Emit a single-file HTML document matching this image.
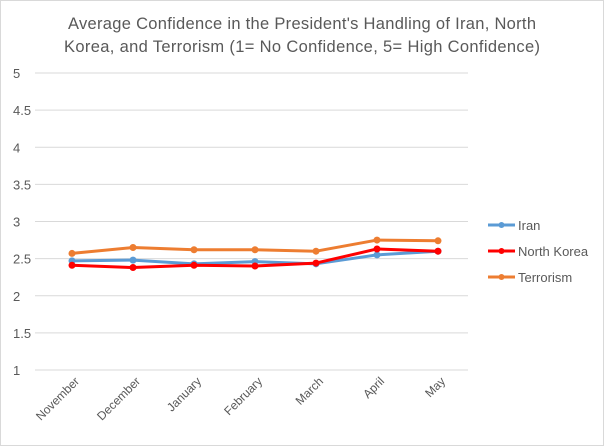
<!DOCTYPE html>
<html><head><meta charset="utf-8"><style>
body{margin:0;background:#fff}
svg{display:block;font-family:"Liberation Sans",sans-serif}
</style></head><body>
<svg id="chart" width="604" height="446" viewBox="0 0 604 446">
<rect x="0.5" y="0.5" width="603" height="445" fill="#fff" stroke="#d9d9d9"/>
<text x="302" y="29" text-anchor="middle" font-size="16.5" fill="#595959" textLength="468">Average Confidence in the President's Handling of Iran, North</text>
<text x="302" y="52" text-anchor="middle" font-size="16.5" fill="#595959" textLength="476">Korea, and Terrorism (1= No Confidence, 5= High Confidence)</text>
<g id="grid"></g><g id="ylabels"></g><g id="xlabels"></g><g id="series"></g><g id="legend"></g>
</svg>
<script>
const categories=["November","December","January","February","March","April","May"];
const iran=[2.47,2.48,2.43,2.46,2.43,2.55,2.60];
const northKorea=[2.41,2.38,2.41,2.40,2.44,2.63,2.60];
const terrorism=[2.57,2.65,2.62,2.62,2.60,2.75,2.74];
const yTicks=[1,1.5,2,2.5,3,3.5,4,4.5,5];
const yTickLabels=["1","1.5","2","2.5","3","3.5","4","4.5","5"];
const NS="http://www.w3.org/2000/svg";
const y=v=>370-(v-1)*74.25;
const x=i=>72+i*61;
function mk(t,a,p){const e=document.createElementNS(NS,t);for(const k in a)e.setAttribute(k,a[k]);p.appendChild(e);return e;}
const g=document.getElementById('grid'),yl=document.getElementById('ylabels'),xl=document.getElementById('xlabels'),sg=document.getElementById('series'),lg=document.getElementById('legend');
yTicks.forEach((v,i)=>{
 const l=mk('line',{x1:35,x2:468,y1:y(v),y2:y(v),stroke:'#d9d9d9','stroke-width':1},g);
 
 
 const t=mk('text',{x:13,y:y(v)+5,'font-size':13,fill:'#595959'},yl);t.textContent=yTickLabels[i];
 
 
});
categories.forEach((c,i)=>{
 const t=mk('text',{x:x(i)+8,y:382,'font-size':12,fill:'#595959','text-anchor':'end',transform:`rotate(-45 ${x(i)+8} 382)`},xl);t.textContent=c;
 
 
});
const series=[["Iran",iran,"#5b9bd5"],["North Korea",northKorea,"#ff0000"],["Terrorism",terrorism,"#ed7d31"]];
series.forEach(([n,d,col],si)=>{
 const grp=mk('g',{},sg);
 
 
 const p=mk('polyline',{points:d.map((v,i)=>x(i)+','+y(v)).join(' '),fill:'none',stroke:col,'stroke-width':3,'stroke-linejoin':'round'},grp);
 
 
 d.forEach((v,i)=>{const c=mk('circle',{cx:x(i),cy:y(v),r:3.5,fill:col},grp);
  
  });
 const ly=225+si*26;
 const le=mk('g',{},lg);
 
 
 mk('line',{x1:488,x2:515,y1:ly,y2:ly,stroke:col,'stroke-width':3},le);
 mk('circle',{cx:501.5,cy:ly,r:3,fill:col},le);
 const t=mk('text',{x:518,y:ly+5,'font-size':13,fill:'#595959'},le);t.textContent=n;
});
</script>
</body></html>
